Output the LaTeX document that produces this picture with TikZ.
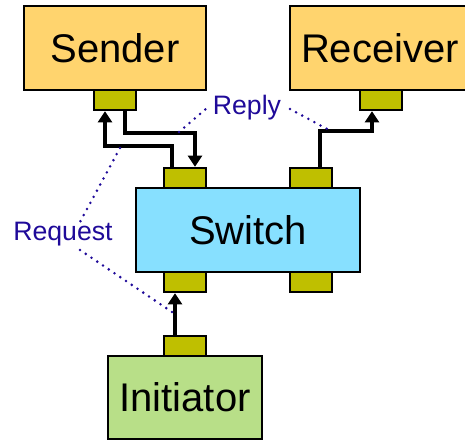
\documentclass[tikz,border=0pt]{standalone}
\usepackage{fontspec}
\setmainfont{Liberation Sans}
\usetikzlibrary{arrows.meta}
\definecolor{hostfill}{HTML}{FFD46E}
\definecolor{switchfill}{HTML}{87E0FF}
\definecolor{initfill}{HTML}{B8DF88}
\definecolor{portfill}{HTML}{BFBF00}
\definecolor{labelblue}{HTML}{1F0A99}
\tikzset{
  box/.style={draw=black, line width=1.7pt, inner sep=0pt, font=\fontsize{30}{36}\selectfont},
  portbox/.style={draw=black, line width=1.7pt, fill=portfill, inner sep=0pt,
    minimum width=42*0.75pt, minimum height=20*0.75pt},
  link/.style={line width=3.5pt, -{Triangle[width=10.5pt,length=8.5pt]}},
  dotline/.style={labelblue, line width=2.1pt, line cap=round, dash pattern=on 0pt off 5.2pt},
  msg/.style={text=labelblue, font=\fontsize{20}{24}\selectfont, inner sep=0pt}
}
\begin{document}
\begin{tikzpicture}[x=0.75pt, y=-0.75pt]
\useasboundingbox (0,0) rectangle (465,440);
\clip (0,0) rectangle (465,440);
% main boxes
\node[box, fill=hostfill, minimum width=182*0.75pt, minimum height=84*0.75pt] (sender) at (115,48) {Sender};
\node[box, fill=hostfill, minimum width=180*0.75pt, minimum height=84*0.75pt] (receiver) at (380,48) {Receiver};
\node[box, fill=switchfill, minimum width=224*0.75pt, minimum height=84*0.75pt] (switch) at (248,230) {Switch};
\node[box, fill=initfill, minimum width=154*0.75pt, minimum height=83*0.75pt] (init) at (185,397.5) {Initiator};
% ports
\node[portbox] (sport) at (115,100) {};
\node[portbox] (rport) at (381,100) {};
\node[portbox] (swtl) at (185,178) {};
\node[portbox] (swtr) at (311,178) {};
\node[portbox] (swbl) at (185,282) {};
\node[portbox] (swbr) at (311,282) {};
\node[portbox] (iport) at (185,346) {};
% links
\draw[link] ([xshift=10*0.75pt]sport.south) -- ++(0,22) -| ([xshift=10*0.75pt]swtl.north);
\draw[link] ([xshift=-13*0.75pt]swtl.north) -- ++(0,-21) -| ([xshift=-10*0.75pt]sport.south);
\draw[link] ([xshift=9*0.75pt]swtr.north) -- ++(0,-36) -| ([xshift=-9*0.75pt]rport.south);
\draw[link] ([xshift=-10*0.75pt]iport.north) -- ([xshift=-10*0.75pt]swbl.south);
% message labels
\node[msg] (reply) at (247,108) {Reply};
\node[msg] (request) at (63,234) {Request};
\coordinate (rpA) at (179,132);
\coordinate (rpB) at (207,108);
\coordinate (rpC) at (290,109);
\coordinate (rpD) at (329,130);
\coordinate (rqA) at (120,148);
\coordinate (rqB) at (80,222);
\coordinate (rqC) at (80,250);
\coordinate (rqD) at (172,312);
\draw[dotline] (rpA) -- (rpB);
\draw[dotline] (rpC) -- (rpD);
\draw[dotline] (rqA) -- (rqB);
\draw[dotline] (rqC) -- (rqD);
\end{tikzpicture}
\end{document}
